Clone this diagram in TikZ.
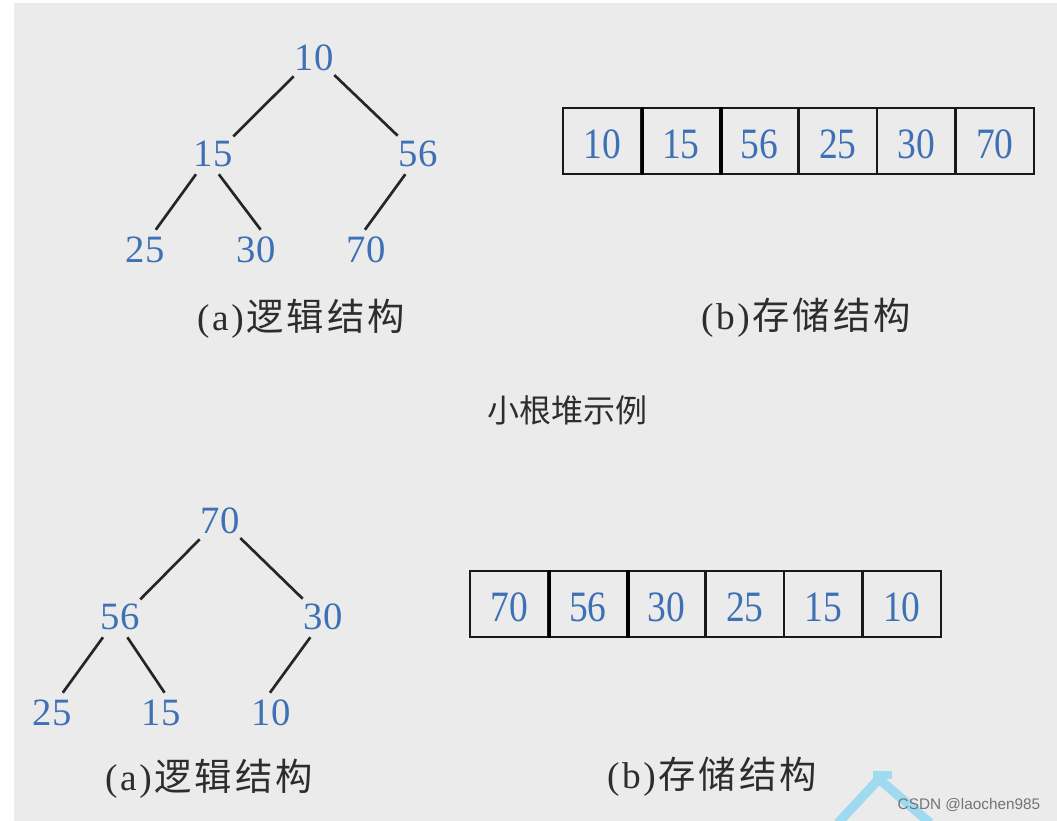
\documentclass[tikz,border=0pt]{standalone}
\usepackage{fontspec}
\setmainfont{Liberation Serif}
\newfontfamily\cjk{Noto Sans CJK SC}
\newfontfamily\wmfont{Liberation Sans}
\definecolor{bggray}{RGB}{235,235,235}
\definecolor{numblue}{RGB}{62,112,182}
\definecolor{labelgray}{RGB}{45,45,45}
\definecolor{wmcyan}{RGB}{160,218,240}
\tikzset{
  num/.style={text=numblue, font=\fontsize{29}{29}\selectfont, minimum width=30pt, minimum height=30pt, inner sep=0pt},
  treeline/.style={line width=2pt, draw=black!85},
  cell/.style={draw=black!90, line width=1.5pt, minimum width=58.9pt, minimum height=49.5pt, inner sep=0pt, text=numblue, font=\fontsize{29}{29}\selectfont},
  captext/.style={text=labelgray, font=\fontsize{28}{28}\selectfont, inner sep=0pt},
  thickdiv/.style={line width=2.6pt, draw=black}
}
\newcommand{\cellnum}[1]{\raisebox{-2.5pt}[\height][\depth]{\scalebox{0.97}[1.12]{#1}}}
\newcommand{\capA}{(\hspace{2pt}a\hspace{2pt})\hspace{2pt}\cjk 逻\hspace{2.25pt}辑\hspace{2.25pt}结\hspace{2.25pt}构}
\newcommand{\capB}{(\hspace{2pt}b\hspace{2pt})\hspace{2pt}\cjk 存\hspace{2.25pt}储\hspace{2.25pt}结\hspace{2.25pt}构}
\begin{document}
\begin{tikzpicture}[x=0.75pt,y=-0.75pt]
\useasboundingbox (0,0) rectangle (1057,821);
\fill[white] (0,0) rectangle (1057,821);
\fill[bggray] (14,3) rectangle (1057,821);

% ---- top tree (min heap)
\node[num] (a10) at (314,58) {10};
\node[num] (a15) at (213,154) {15};
\node[num] (a56) at (418,154) {56};
\node[num] (a25) at (145,250) {25};
\node[num] (a30) at (256,250) {30};
\node[num] (a70) at (366,250) {70};
\draw[treeline] (a10.-138) -- (a15.41);
\draw[treeline] (a10.-40) -- (a56.138);
\draw[treeline] (a15.-130) -- (a25.62);
\draw[treeline] (a15.-74) -- (a30.77);
\draw[treeline] (a56.-122) -- (a70.93);
\node[captext] (capa1) at (301,319) {\capA};

% ---- top array
\foreach \v [count=\i] in {10,15,56,25,30,70}{
  \node[cell] (c\i) at ({563+78.5*(\i-0.5)},141) {\cellnum{\v}};
}
\draw[thickdiv] (c1.north east) -- (c1.south east);
\draw[thickdiv] (c2.north east) -- (c2.south east);
\node[captext] (capb1) at (806,318) {\capB};

% ---- middle title
\node[text=labelgray, font=\cjk\fontsize{24}{24}\selectfont, inner sep=0pt] (title) at (567,410) {小根堆示例};

% ---- bottom tree (max heap)
\node[num] (b70) at (220,521) {70};
\node[num] (b56) at (120,617) {56};
\node[num] (b30) at (323,617) {30};
\node[num] (b25) at (52,713) {25};
\node[num] (b15) at (161,713) {15};
\node[num] (b10) at (271,713) {10};
\draw[treeline] (b70.-138) -- (b56.41);
\draw[treeline] (b70.-40) -- (b30.138);
\draw[treeline] (b56.-130) -- (b25.62);
\draw[treeline] (b56.-70) -- (b15.80);
\draw[treeline] (b30.-122) -- (b10.93);
\node[captext] (capa2) at (209,779) {\capA};

% ---- bottom array
\foreach \v [count=\i] in {70,56,30,25,15,10}{
  \node[cell] (d\i) at ({470+78.5*(\i-0.5)},604) {\cellnum{\v}};
}
\draw[thickdiv] (d1.north east) -- (d1.south east);
\draw[thickdiv] (d2.north east) -- (d2.south east);
\node[captext] (capb2) at (712,777) {\capB};

% ---- watermark
\draw[wmcyan, line width=7pt, line join=miter] (838,823) -- (879,779) -- (930,823);
\fill[wmcyan] (873,771) rectangle (892,779);
\node[text=black!55, font=\wmfont\fontsize{11.5}{11.5}\selectfont, inner sep=0pt] (wm) at (969,805) {CSDN @laochen985};
\end{tikzpicture}
\end{document}
